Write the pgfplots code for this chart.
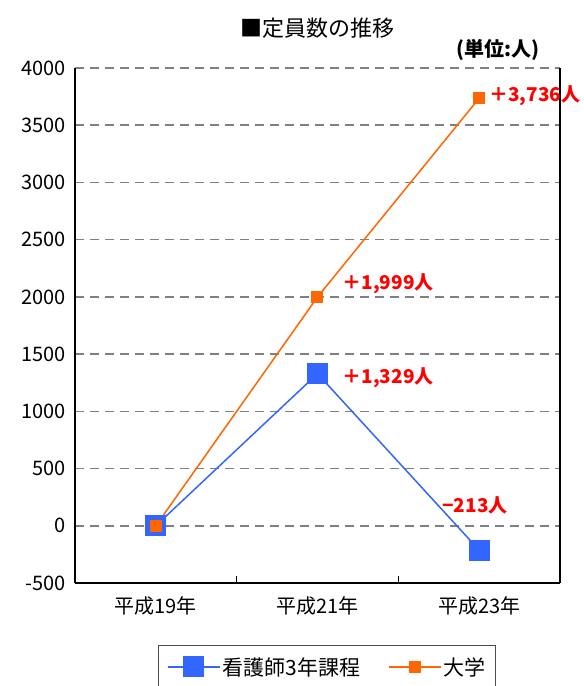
\documentclass[border=0pt]{standalone}
\usepackage{fontspec}
\setmainfont{Noto Sans CJK JP}
\usepackage{pgfplots}
\pgfplotsset{compat=1.18}
\definecolor{sblue}{HTML}{3366FF}
\definecolor{sorange}{HTML}{FF6600}
\definecolor{lred}{HTML}{FF0000}
\begin{document}
\begin{tikzpicture}
\begin{axis}[
  at={(0pt,0pt)}, anchor=south west, scale only axis,
  width=485pt, height=515pt,
  xmin=-0.5, xmax=2.5, ymin=-500, ymax=4000,
  axis x line*=bottom, axis y line*=box,
  axis line style={black, line width=1.5pt},
  ytick={-500,0,500,1000,1500,2000,2500,3000,3500,4000},
  xtick={0,1,2}, xticklabels={平成19年,平成21年,平成23年},
  major tick length=0pt,
  extra x ticks={0.5,1.5}, extra x tick labels={},
  extra x tick style={major tick length=7pt, tick align=inside, tick style={black, line width=1pt}, grid=none},
  ymajorgrids=true,
  grid style={gray, line width=1.6pt, dash pattern=on 9pt off 6pt},
  /pgf/number format/1000 sep={},
  /pgf/number format/assume math mode=true,
  yticklabel style={font=\fontsize{20}{22}\selectfont, xshift=-6pt},
  xticklabel style={font=\fontsize{20}{22}\selectfont, yshift=-10pt},
  legend style={at={(rel axis cs:0.52,-0.12)}, anchor=north, legend columns=2,
    draw=black!70, line width=1pt, font=\fontsize{21}{23}\selectfont,
    inner ysep=10pt, inner xsep=8pt,
    /tikz/every even column/.append style={column sep=26pt}},
  legend image code/.code={\draw[mark repeat=2,mark phase=2,#1] plot coordinates {(0pt,0pt) (26pt,0pt) (52pt,0pt)};},
  clip=false,
]
\addplot[sblue, line width=1.5pt, mark=square*, mark size=10pt, mark options={solid, fill=sblue, draw=sblue, line width=0pt}]
  coordinates {(0,0) (1,1329) (2,-213)};
\addlegendentry{看護師3年課程}
\addplot[sorange, line width=1.5pt, mark=square*, mark size=5.5pt, mark options={solid, fill=sorange, draw=sorange, line width=0pt}]
  coordinates {(0,0) (1,1999) (2,3736)};
\addlegendentry{大学}
\node[anchor=west, text=lred, font=\bfseries\fontsize{19}{21}\selectfont, inner sep=0pt] at (axis cs:2,3736) [xshift=10pt, yshift=2pt] {＋3,736人};
\node[anchor=west, text=lred, font=\bfseries\fontsize{19}{21}\selectfont, inner sep=0pt] at (axis cs:1,1999) [xshift=25pt, yshift=13pt] {＋1,999人};
\node[anchor=west, text=lred, font=\bfseries\fontsize{19}{21}\selectfont, inner sep=0pt] at (axis cs:1,1329) [xshift=25pt, yshift=-4pt] {＋1,329人};
\node[anchor=west, text=lred, font=\bfseries\fontsize{19}{21}\selectfont, inner sep=0pt] at (axis cs:2,-213) [xshift=-37pt, yshift=45pt] {−213人};
\end{axis}
\node[font=\fontsize{22}{24}\selectfont] at (242.5pt,555pt) {■定員数の推移};
\node[anchor=east, font=\bfseries\fontsize{20}{22}\selectfont, inner sep=0pt] at (465pt,533pt) {(単位:人)};
\pgfresetboundingbox
\useasboundingbox (-75pt,-103pt) rectangle (509pt,583pt);
\end{tikzpicture}
\end{document}
